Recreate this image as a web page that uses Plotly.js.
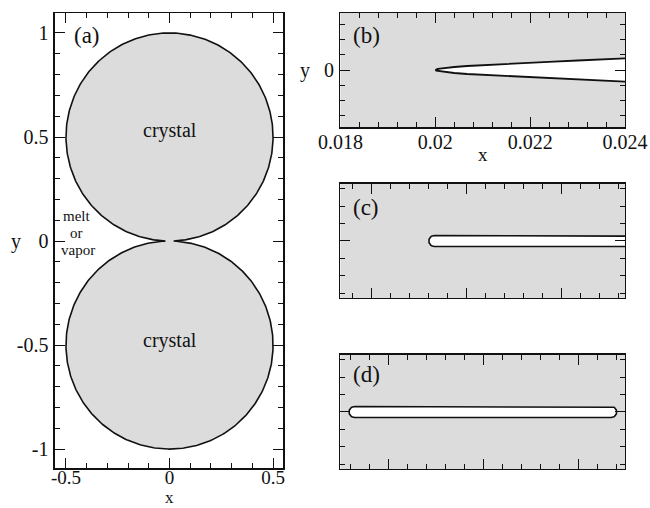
<!DOCTYPE html>
<html><head><meta charset="utf-8">
<script src="https://cdn.plot.ly/plotly-3.0.1.min.js"></script>
<style>html,body{margin:0;padding:0;background:#fff}</style>
</head><body><div id="chart" style="width:650px;height:508px"></div>
<script>
// ---- Panel (a): two crystal discs joined by a tiny neck ----
const crystalCenterY = [0.5, -0.5];
const crystalRadius = [0.5, 0.5];
const neckHalfWidth = [0.02];
const aXTickVals = [-0.5, 0, 0.5];
const aXTickText = ['-0.5', '0', '0.5'];
const aYTickVals = [-1, -0.5, 0, 0.5, 1];
const aYTickText = ['-1', '-0.5', '0', '0.5', '1'];
// ---- Panel (b): groove tip (upper half-width) ----
const grooveX = [0.02, 0.02002, 0.02005, 0.0201, 0.0202, 0.0204, 0.02067, 0.021, 0.0215, 0.022, 0.0225, 0.023, 0.0235, 0.024, 0.0245];
const grooveHalfWidth = [0, 0.0000079, 0.0000132, 0.0000184, 0.0000263, 0.0000395, 0.0000526, 0.0000645, 0.000079, 0.0000947, 0.0001105, 0.000125, 0.0001395, 0.000154, 0.0001684];
const bXTickVals = [0.018, 0.02, 0.022, 0.024];
const bXTickText = ['0.018', '0.02', '0.022', '0.024'];
// ---- Panels (c), (d): slots (outer ends of the white channel) ----
const slotCEnds = [0.021206, 0.0258];
const slotDEnds = [0.019179, 0.024806];
const slotHalfHeight = [0.0000632, 0.0000632];
const panelLabels = ['(a)', '(b)', '(c)', '(d)'];
const regionLabels = ['crystal', 'crystal', 'melt', 'or', 'vapor'];

const W = 650, H = 508;
const dom = {
  xa: [0.0846, 0.4354], ya: [0.0787, 0.9744],
  xr: [0.5238, 0.9615],
  yb: [0.75, 0.9744], yc: [0.4134, 0.6378], yd: [0.0768, 0.3012]
};
const rng = {
  xa: [-0.553, 0.548], ya: [-1.091, 1.096],
  xb: [0.018, 0.024], yb: [-0.00075, 0.00075],
  xc: [0.019347, 0.025332], yc: [-0.000656, 0.000656],
  xd: [0.018998, 0.024981], yd: [-0.000656, 0.000656]
};

// crystal outline
const ax = [], ay = [];
const r0 = crystalRadius[0], phi0 = Math.asin(neckHalfWidth[0] / r0);
const N = 400;
for (let i = 0; i <= N; i++) {
  const p = phi0 + (2 * Math.PI - 2 * phi0) * i / N;
  ax.push(r0 * Math.sin(p)); ay.push(crystalCenterY[0] - r0 * Math.cos(p));
}
const r1 = crystalRadius[1], phi1 = Math.asin(neckHalfWidth[0] / r1);
for (let i = 0; i <= N; i++) {
  const p = phi1 + (2 * Math.PI - 2 * phi1) * i / N;
  ax.push(-r1 * Math.sin(p)); ay.push(crystalCenterY[1] + r1 * Math.cos(p));
}
ax.push(ax[0]); ay.push(ay[0]);

// groove outline
const bx = grooveX.concat(grooveX.slice().reverse());
const by = grooveHalfWidth.concat(grooveHalfWidth.slice().reverse().map(v => -v));

function slot(ends, hw, xr, yr, ydom) {
  const pxX = (dom.xr[1] - dom.xr[0]) * W / (xr[1] - xr[0]);
  const pxY = (ydom[1] - ydom[0]) * H / (yr[1] - yr[0]);
  const rx = hw * pxY / pxX;
  const c0 = ends[0] + rx, c1 = ends[1] - rx;
  const x = [], y = [];
  const M = 24;
  x.push(c0); y.push(hw);
  for (let i = 0; i <= M; i++) { const t = Math.PI / 2 - Math.PI * i / M; x.push(c1 + rx * Math.cos(t)); y.push(hw * Math.sin(t)); }
  for (let i = 0; i <= M; i++) { const t = -Math.PI / 2 - Math.PI * i / M; x.push(c0 + rx * Math.cos(t)); y.push(hw * Math.sin(t)); }
  return {x, y};
}
const sc = slot(slotCEnds, slotHalfHeight[0], rng.xc, rng.yc, dom.yc);
const sd = slot(slotDEnds, slotHalfHeight[1], rng.xd, rng.yd, dom.yd);

const FONT = "'Liberation Serif', 'Times New Roman', Times, serif";
const traces = [
  {x: ax, y: ay, mode: 'lines', fill: 'toself', fillcolor: '#dcdcdc', line: {color: '#111', width: 1.6}, xaxis: 'x', yaxis: 'y', hoverinfo: 'skip'},
  {x: bx, y: by, mode: 'lines', fill: 'toself', fillcolor: '#ffffff', line: {color: '#111', width: 1.8}, xaxis: 'x2', yaxis: 'y2', hoverinfo: 'skip'},
  {x: sc.x, y: sc.y, mode: 'lines', fill: 'toself', fillcolor: '#ffffff', line: {color: '#111', width: 1.6}, xaxis: 'x3', yaxis: 'y3', hoverinfo: 'skip'},
  {x: sd.x, y: sd.y, mode: 'lines', fill: 'toself', fillcolor: '#ffffff', line: {color: '#111', width: 1.6}, xaxis: 'x4', yaxis: 'y4', hoverinfo: 'skip'}
];

function f(s) { return {family: FONT, size: s, color: '#111'}; }
function axis(o) {
  return Object.assign({
    showline: true, linecolor: '#111', linewidth: 1.5, mirror: 'ticks',
    ticks: 'inside', ticklen: 10, tickwidth: 1, tickcolor: '#111',
    showgrid: false, zeroline: false, fixedrange: true,
    tickfont: f(20), tickmode: 'array'
  }, o);
}
function minor(t0, dt) { return {tickmode: 'linear', tick0: t0, dtick: dt, ticklen: 5, ticks: 'inside', tickcolor: '#111', tickwidth: 1, showgrid: false}; }
function ann(o) { return Object.assign({showarrow: false, xanchor: 'center', yanchor: 'middle', font: f(20)}, o); }

const layout = {
  width: W, height: H, margin: {l: 0, r: 0, t: 0, b: 0},
  paper_bgcolor: '#fff', plot_bgcolor: '#fff', showlegend: false,
  font: {family: FONT, color: '#111'},
  xaxis: axis({domain: dom.xa, range: rng.xa, anchor: 'y', tickvals: aXTickVals, ticktext: aXTickText, minor: minor(0, 0.1), tickfont: f(19), ticklabelstandoff: -8}),
  yaxis: axis({domain: dom.ya, range: rng.ya, anchor: 'x', tickvals: aYTickVals, ticktext: aYTickText, minor: minor(0, 0.1), ticklabelstandoff: 1}),
  xaxis2: axis({domain: dom.xr, range: rng.xb, anchor: 'y2', tickvals: bXTickVals, ticktext: bXTickText, minor: minor(0.018, 0.0004), ticklabelstandoff: -4}),
  yaxis2: axis({domain: dom.yb, range: rng.yb, anchor: 'x2', tickvals: [0], ticktext: ['0'], minor: minor(0, 0.0002), ticklabelstandoff: 1}),
  xaxis3: axis({domain: dom.xr, range: rng.xc, anchor: 'y3', tickvals: [0.02, 0.022, 0.024], showticklabels: false, minor: minor(0.02, 0.0004)}),
  yaxis3: axis({domain: dom.yc, range: rng.yc, anchor: 'x3', tickvals: [0], showticklabels: false, minor: minor(0, 0.0002)}),
  xaxis4: axis({domain: dom.xr, range: rng.xd, anchor: 'y4', tickvals: [0.02, 0.022, 0.024], showticklabels: false, minor: minor(0.02, 0.0004)}),
  yaxis4: axis({domain: dom.yd, range: rng.yd, anchor: 'x4', tickvals: [0], showticklabels: false, minor: minor(0, 0.0002)}),
  shapes: ['2', '3', '4'].map(k => ({type: 'rect', xref: 'x' + k + ' domain', yref: 'y' + k + ' domain', x0: 0, x1: 1, y0: 0, y1: 1, fillcolor: '#dcdcdc', line: {width: 0}, layer: 'below'})),
  annotations: [
    ann({text: panelLabels[0], xref: 'x domain', yref: 'y domain', x: 0.076, y: 0.9495, xanchor: 'left', font: f(23)}),
    ann({text: panelLabels[1], xref: 'x2 domain', yref: 'y2 domain', x: 0.036, y: 0.807, xanchor: 'left', font: f(23)}),
    ann({text: panelLabels[2], xref: 'x3 domain', yref: 'y3 domain', x: 0.036, y: 0.798, xanchor: 'left', font: f(23)}),
    ann({text: panelLabels[3], xref: 'x4 domain', yref: 'y4 domain', x: 0.036, y: 0.833, xanchor: 'left', font: f(23)}),
    ann({text: regionLabels[0], xref: 'x', yref: 'y', x: 0, y: 0.533, font: f(20)}),
    ann({text: regionLabels[1], xref: 'x', yref: 'y', x: 0, y: -0.476, font: f(20)}),
    ann({text: regionLabels[2], xref: 'x', yref: 'y', x: -0.447, y: 0.118, font: f(15)}),
    ann({text: regionLabels[3], xref: 'x', yref: 'y', x: -0.447, y: 0.037, font: f(15)}),
    ann({text: regionLabels[4], xref: 'x', yref: 'y', x: -0.44, y: -0.044, font: f(15)}),
    ann({text: 'y', xref: 'paper', yref: 'y', x: 16 / W, y: 0}),
    ann({text: 'x', xref: 'x', yref: 'paper', x: 0, y: 0, yanchor: 'bottom', font: f(17), borderpad: 0}),
    ann({text: 'y', xref: 'paper', yref: 'y2', x: 305 / W, y: 0}),
    ann({text: 'x', xref: 'x2 domain', yref: 'paper', x: 0.5, y: (H - 154) / H, font: f(19)})
  ]
};
Plotly.newPlot('chart', traces, layout, {displayModeBar: false, staticPlot: true});
</script></body></html>
